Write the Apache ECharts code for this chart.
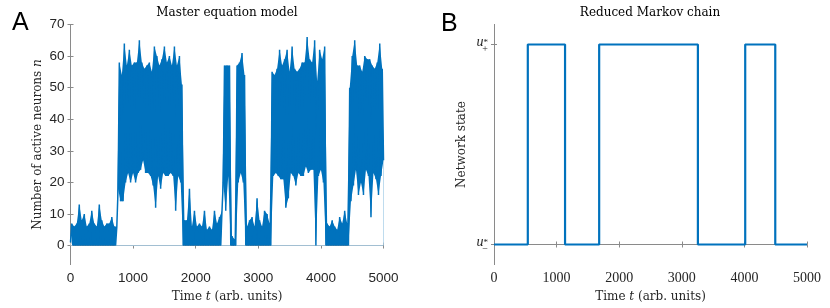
<!DOCTYPE html>
<html><head><meta charset="utf-8">
<script src="https://cdn.jsdelivr.net/npm/echarts@6/dist/echarts.min.js"></script>
<style>html,body{margin:0;padding:0;background:#fff}#c{width:830px;height:308px}</style>
</head><body><div id="c"></div><script>
// ---- data ----
const sampleStep = 40; // time units per envelope sample
const lowEnvelope = [
  1,0,0,0,0,0,0,0,0,0,0,0,0,0,0,0,0,0,0,
  18,14,14,20,23,20,23,20,23,24,27,23,23,22,19,12,22,18,23,22,22,23,22,11,22,20,
  0,0,0,0,0,0,0,0,0,0,0,0,0,0,0,0,
  20,11,22,0,0,0,20,23,20,
  0,0,0,0,0,0,0,0,0,0,
  0,22,23,22,21,21,12,15,23,22,19,23,22,22,25,23,24,24,0,22,24,20,
  0,0,0,0,0,0,0,0,0,
  0,14,19,24,16,20,16,24,22,9,23,21,16,22
];
const highEnvelope = [
  7,6,7,13,8,10,6,7,11,7,6,13,8,6,7,7,9,6,6,
  58,54,64,57,62,57,58,58,65,58,56,57,58,55,63,60,57,59,63,58,60,57,63,57,60,51,
  8,8,18,6,11,6,7,6,11,5,6,5,11,7,9,11,
  57,57,57,3,2,57,58,61,54,
  6,8,9,6,15,8,6,11,10,7,
  55,54,56,62,57,59,62,55,63,56,55,56,58,58,66,59,58,65,52,62,59,63,
  7,6,8,6,5,9,7,11,7,
  50,60,65,57,57,55,60,59,59,57,56,58,64,56
];
const finalTime = 5000, finalValue = 27;
const chainTimes  = [0, 540, 1135, 1680, 3257, 4013, 4493, 5000];
const chainStates = [0, 1, 0, 1, 0, 1, 0, 0];
const timeTicks = [0, 1000, 2000, 3000, 4000, 5000];
const countTicks = [0, 10, 20, 30, 40, 50, 60, 70];
const stateTicks = [0, 1];
const stateSubscripts = ['\u2212', '+'];

// ---- build series ----
const masterData = [], bandHigh = [], bandLow = [];
lowEnvelope.forEach((lo, i) => {
  const t = i * sampleStep;
  masterData.push([t, lo]);
  masterData.push([t + sampleStep / 2, highEnvelope[i]]);
  bandHigh.push([t + sampleStep / 2, highEnvelope[i]]);
  bandLow.push([t, lo]);
});
masterData.push([finalTime, finalValue]);
bandHigh.push([finalTime, finalValue]);
bandLow.push([finalTime, finalValue]);
const chainData = chainTimes.map((t, i) => [t, chainStates[i]]);

const BLUE = '#0072BD', AX = '#8a8a8a', TXT = '#262626';
const SERIF = '"DejaVu Serif", serif';
const NUMSERIF = '"Liberation Serif", serif';
const SANS = '"Liberation Sans", Arial, sans-serif';

function xAx(grid, top, serif) {
  return {
    gridIndex: grid, type: 'value', min: 0, max: 5000, interval: 1000,
    position: top ? 'top' : 'bottom',
    axisLine: { show: true, lineStyle: { color: AX, width: 1 } },
    axisTick: { show: true, inside: true, length: 3, lineStyle: { color: AX } },
    axisLabel: { show: !top, margin: 7, color: TXT, fontSize: serif ? 14 : 13.5,
      fontFamily: serif ? NUMSERIF : SANS, formatter: v => String(v) },
    splitLine: { show: false },
    name: top ? '' : '{r|Time }{i|t}{r| (arb. units)}',
    nameLocation: 'middle', nameGap: 24,
    nameTextStyle: { rich: {
      r: { fontFamily: SERIF, fontSize: 12, color: TXT },
      i: { fontFamily: SERIF, fontSize: 12, fontStyle: 'italic', color: TXT } } }
  };
}

const option = {
  animation: false,
  backgroundColor: '#fff',
  title: [
    { text: 'Master equation model', left: 227, top: 7, padding: 0, textAlign: 'center',
      textStyle: { fontFamily: SERIF, fontSize: 12, fontWeight: 'normal', color: '#000' } },
    { text: 'Reduced Markov chain', left: 650, top: 7, padding: 0, textAlign: 'center',
      textStyle: { fontFamily: SERIF, fontSize: 12, fontWeight: 'normal', color: '#000' } },
    { text: 'A', left: 12, top: 11, padding: 0, textStyle: { fontFamily: SANS, fontSize: 25, fontWeight: 'normal', color: '#000' } },
    { text: 'B', left: 441, top: 12, padding: 0, textStyle: { fontFamily: SANS, fontSize: 25, fontWeight: 'normal', color: '#000' } }
  ],
  grid: [
    { left: 70.5, right: 446.5, top: 24.5, bottom: 43.5 },
    { left: 494, right: 23, top: 24.5, bottom: 43.5 }
  ],
  xAxis: [ xAx(0, false, false), xAx(0, true, false), xAx(1, false, true), xAx(1, true, true) ],
  yAxis: [
    { gridIndex: 0, type: 'value', min: -6, max: 70,
      axisLine: { show: true, lineStyle: { color: AX } },
      axisTick: { show: true, inside: true, length: 3, customValues: countTicks, lineStyle: { color: AX } },
      axisLabel: { customValues: countTicks, margin: 6, color: TXT, fontSize: 13.5, fontFamily: SANS },
      splitLine: { show: false },
      name: '{r|Number of active neurons }{i|n}', nameLocation: 'middle', nameGap: 27,
      nameTextStyle: { rich: {
        r: { fontFamily: SERIF, fontSize: 12, color: TXT },
        i: { fontFamily: SERIF, fontSize: 12, fontStyle: 'italic', color: TXT } } } },
    { gridIndex: 0, type: 'value', min: -6, max: 70, position: 'right',
      axisLine: { show: true, lineStyle: { color: AX } },
      axisTick: { show: true, inside: true, length: 3, customValues: countTicks, lineStyle: { color: AX } },
      axisLabel: { show: false }, splitLine: { show: false } },
    { gridIndex: 1, type: 'value', min: -0.1, max: 1.1,
      axisLine: { show: true, lineStyle: { color: AX } },
      axisTick: { show: true, inside: true, length: 3, customValues: stateTicks, lineStyle: { color: AX } },
      axisLabel: { customValues: stateTicks, margin: 6,
        formatter: v => '{u|u}{s|*}\n{b|' + stateSubscripts[Math.round(v)] + '}',
        rich: {
          u: { fontFamily: NUMSERIF, fontStyle: 'italic', fontSize: 14, lineHeight: 9, color: TXT },
          s: { fontFamily: NUMSERIF, fontSize: 9, lineHeight: 5, verticalAlign: 'top', color: TXT },
          b: { fontFamily: NUMSERIF, fontSize: 10, lineHeight: 4, color: TXT } } },
      splitLine: { show: false },
      name: 'Network state', nameLocation: 'middle', nameGap: 26,
      nameTextStyle: { fontFamily: SERIF, fontSize: 12, color: TXT } },
    { gridIndex: 1, type: 'value', min: -0.1, max: 1.1, position: 'right',
      axisLine: { show: true, lineStyle: { color: AX } },
      axisTick: { show: true, inside: true, length: 3, customValues: stateTicks, lineStyle: { color: AX } },
      axisLabel: { show: false }, splitLine: { show: false } }
  ],
  series: [
    // envelope fill: blue under the upper envelope, white mask under the lower envelope
    { type: 'line', xAxisIndex: 0, yAxisIndex: 0, data: bandHigh, showSymbol: false, silent: true,
      lineStyle: { width: 0, opacity: 0 }, areaStyle: { color: BLUE, opacity: 1, origin: 'auto' } },
    { type: 'line', xAxisIndex: 0, yAxisIndex: 0, data: bandLow, showSymbol: false, silent: true,
      lineStyle: { width: 0, opacity: 0 }, areaStyle: { color: '#ffffff', opacity: 1, origin: 'auto' } },
    { type: 'line', xAxisIndex: 0, yAxisIndex: 0, data: masterData, showSymbol: false,
      sampling: false, lineStyle: { color: BLUE, width: 1.5 }, itemStyle: { color: BLUE } },
    { type: 'line', xAxisIndex: 2, yAxisIndex: 2, data: chainData, step: 'end', showSymbol: false,
      lineStyle: { color: BLUE, width: 2.2 }, itemStyle: { color: BLUE } }
  ]
};
echarts.init(document.getElementById('c'), null, { renderer: 'canvas' }).setOption(option);
</script></body></html>
